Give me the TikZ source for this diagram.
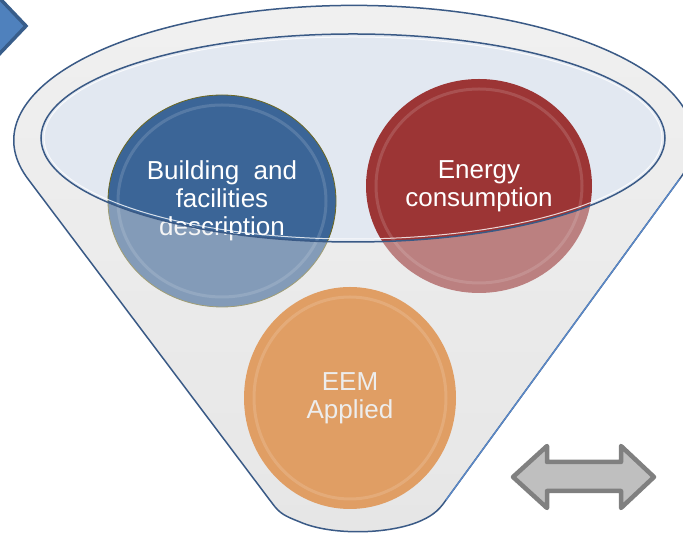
\documentclass[tikz,border=0pt]{standalone}
\usepackage{fontspec}
\setmainfont{Liberation Sans}
\usetikzlibrary{shapes.geometric}
\definecolor{cblue}{HTML}{3B6597}
\definecolor{cred}{HTML}{9C3535}
\definecolor{corange}{HTML}{E09E64}
\definecolor{rimline}{HTML}{3A5A86}
\definecolor{rimlight}{HTML}{5B89C8}
\definecolor{mouthfill}{HTML}{E2E8F1}
\definecolor{bodyfill}{HTML}{E8E8E8}
\definecolor{chevfill}{HTML}{4F81BD}
\definecolor{chevline}{HTML}{385D8A}
\tikzset{
  bubble/.style={ellipse, inner sep=0pt, align=center, text=white,
    font=\fontsize{26}{28}\selectfont},
  bevel/.style={line width=3pt, opacity=0.14},
  funneledge/.style={draw=rimline, line width=1.5pt, line join=round},
  grayarrow/.style={draw=black!50, fill=black!25, line width=4.5pt, line join=round},
  chevron/.style={draw=chevline, fill=chevfill, line width=3.5pt, line join=miter}
}
\begin{document}
\begin{tikzpicture}[x=1pt,y=1pt]
\useasboundingbox (0,0) rectangle (683,534);
\fill[white] (0,0) rectangle (683,534);

\def\funnelpath{(28,355) arc[start angle=196.6, end angle=-16.6, x radius=340pt, y radius=135pt] -- (446,34) .. controls (438,22) and (430,17) .. (418,12) .. controls (385,-1) and (330,-1) .. (300,12) .. controls (285,18) and (280,20) .. (272,31) -- cycle}

% funnel body
\shade[top color=black!3, bottom color=black!10] \funnelpath;
% mouth
\fill[mouthfill] (353,396) ellipse[x radius=312pt, y radius=104pt];

% back circles
\node[bubble, fill=cblue, draw=olive!70!black, line width=0.8pt,
  minimum width=228pt, minimum height=212pt] (bldg) at (222,333)
  {Building\ \ and\\facilities\\description};
\draw[bevel, white] (bldg.center) ellipse[x radius=104pt, y radius=96pt];
\node[bubble, fill=cred, minimum width=226pt, minimum height=214pt] (energy) at (479,348)
  {Energy\\consumption};
\draw[bevel, white] (energy.center) ellipse[x radius=103pt, y radius=97pt];

% translucent front of the funnel
\fill[bodyfill, opacity=0.42, even odd rule] \funnelpath
  (353,396) ellipse[x radius=312pt, y radius=104pt];

% outlines
\draw[white, line width=1pt, opacity=0.8] (353,396) ellipse[x radius=309pt, y radius=101pt];
\draw[rimline, line width=1.5pt] (353,396) ellipse[x radius=312pt, y radius=104pt];
\draw[funneledge] \funnelpath;
\coordinate (rtop) at (679.6,355);
\coordinate (rbot) at (446,34);
\draw[rimlight, line width=1.3pt] (rtop) -- (rbot);

% front circle
\node[bubble, fill=corange, text=black!7, minimum width=212pt, minimum height=222pt] (eem) at (350,136)
  {EEM\\Applied};
\draw[bevel, white] (eem.center) ellipse[x radius=96pt, y radius=101pt];

% chevron top-left
\draw[chevron] (-14,550) -- (26,508) -- (-14,466);

% double arrow
\draw[grayarrow] (513,57) -- (547,88) -- (547,72) -- (621,72) -- (621,88) -- (654,57)
  -- (621,26) -- (621,43) -- (547,43) -- (547,26) -- cycle;
\end{tikzpicture}
\end{document}
